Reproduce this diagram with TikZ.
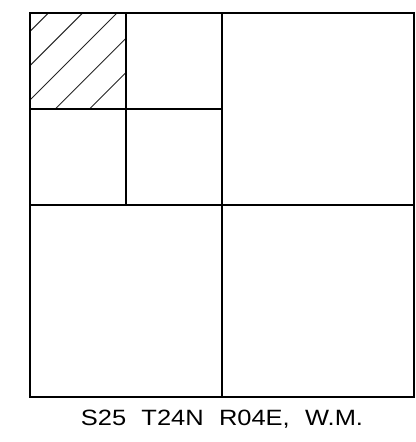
\documentclass[tikz,border=0pt]{standalone}
\usepackage{fontspec}
\setmainfont{Liberation Sans}
\usepackage{tikz}
\usetikzlibrary{positioning, calc}

\begin{document}
\begin{tikzpicture}[
  font=\fontsize{15.75}{18}\selectfont,
  gridline/.style={black, line width=1.4pt},
  hatchline/.style={black!85, line width=0.7pt},
]
% -------- common section geometry --------
\pgfmathsetmacro{\sz}{9.6}            % side length of the section in cm
\pgfmathsetmacro{\hf}{\sz/2}          % half section
\pgfmathsetmacro{\qt}{\sz/4}          % quarter-quarter
\newcommand{\wgap}{\hspace{0.6em}}    % word gap of the label

\useasboundingbox (-0.75,-1.125) rectangle (9.65,9.925);

% =====================================================================
% Hatched quarter-quarter (NW of NW)
% =====================================================================
\begin{scope}[shift={(0,\hf+\qt)}]
  \clip (0,0) rectangle (\qt,\qt);
  \foreach \c in {-1.94,-1.083,-0.226,0.631,1.488} {
    \draw[hatchline] (\c-3,-3) -- (\c+3,3);
  }
\end{scope}

% =====================================================================
% Section lines
% =====================================================================
\draw[gridline] (0,0) rectangle (\sz,\sz);
\draw[gridline] (\hf,0) -- (\hf,\sz);
\draw[gridline] (0,\hf) -- (\sz,\hf);
\draw[gridline] (\qt,\hf) -- (\qt,\sz);
\draw[gridline] (0,\hf+\qt) -- (\hf,\hf+\qt);

% section label
\node[xscale=1.15, transform shape, anchor=base, inner sep=0pt] (seclabel) at (\hf,-0.72)
  {S25\wgap T24N\wgap R04E,\wgap W.M.};

\end{tikzpicture}
\end{document}
